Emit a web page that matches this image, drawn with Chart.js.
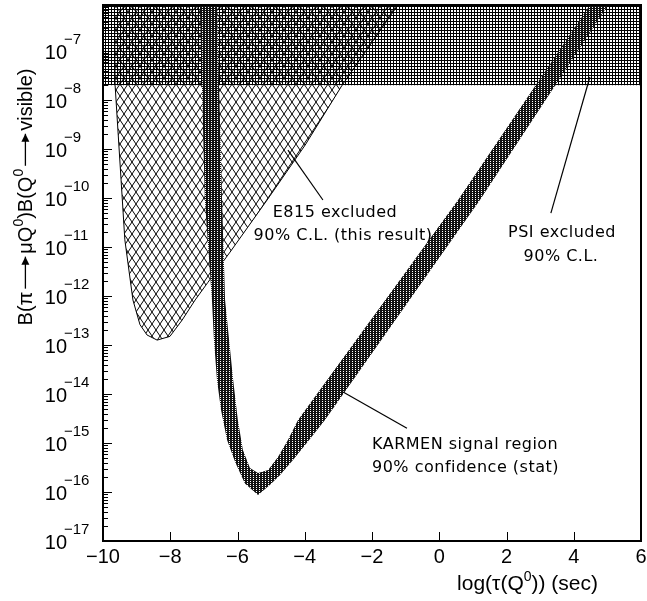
<!DOCTYPE html>
<html>
<head>
<meta charset="utf-8">
<script src="https://cdn.jsdelivr.net/npm/chart.js@4/dist/chart.umd.min.js"></script>
<style>
  html, body { margin: 0; padding: 0; background: #fff; }
  #wrap { width: 647px; height: 601px; }
</style>
</head>
<body>
<div id="wrap"><canvas id="chart" width="647" height="601"></canvas></div>
<script>
// axis ranges
const xMin = -10, xMax = 6;
const yMin = 1e-17, yMax = 8.7e-7;
const xTickValues = [-10, -8, -6, -4, -2, 0, 2, 4, 6];
const yDecades = [-17, -16, -15, -14, -13, -12, -11, -10, -9, -8, -7];

// PSI excluded: everything above this branching ratio
const psiX = [-10, 6];
const psiB = [2.0e-8, 2.0e-8];

// E815 excluded region (closed outline)
const e815X = [-9.66, -9.64, -9.35, -9.11, -8.90, -8.69, -8.39, -8.01, -7.65, -7.26, -6.88, -6.22, -5.12, -3.99, -2.89, -1.23, -9.66];
const e815B = [8.7e-7, 2.0e-8, 1.4e-11, 8.3e-13, 2.6e-13, 1.6e-13, 1.26e-13, 1.5e-13, 3.2e-13, 8.3e-13, 1.9e-12, 7.9e-12, 9.1e-11, 1.2e-9, 2.0e-8, 8.7e-7, 8.7e-7];

// KARMEN signal band: outer edge then inner edge back
const karmenOuterX = [-7.12, -6.97, -6.76, -6.70, -6.61, -6.49, -6.31, -6.07, -5.78, -5.39, -5.03, -4.74, -4.35, -3.87, -3.40, 1.21, 5.02];
const karmenOuterB = [8.7e-7, 9.1e-11, 8.3e-13, 1.26e-13, 1.95e-14, 4.7e-15, 1.15e-15, 4.1e-16, 1.5e-16, 8.7e-17, 1.4e-16, 2.2e-16, 4.5e-16, 1.15e-15, 2.95e-15, 9.1e-11, 8.7e-7];
const karmenInnerX = [4.48, 0.56, -4.20, -4.50, -4.80, -5.09, -5.39, -5.63, -5.84, -5.99, -6.13, -6.37, -6.46, -6.61, -7.12];
const karmenInnerB = [8.7e-7, 9.1e-11, 2.95e-15, 1.15e-15, 5.1e-16, 2.8e-16, 2.45e-16, 3.1e-16, 7.2e-16, 2.95e-15, 1.95e-14, 8.3e-13, 9.1e-11, 8.7e-7, 8.7e-7];

// pointer lines from labels into regions
const pointerE815X = [-4.50, -3.46], pointerE815B = [9.5e-10, 9.1e-11];
const pointerPsiX = [4.48, 3.32], pointerPsiB = [2.95e-8, 4.9e-11];
const pointerKarmenX = [-2.86, -0.96], pointerKarmenB = [1.1e-14, 2.0e-15];

// annotation texts, anchored in data coordinates
const notes = [
  { text: 'E815 excluded', x: -3.10, b: 5.1e-11, align: 'center' },
  { text: '90% C.L. (this result)', x: -2.86, b: 1.7e-11, align: 'center' },
  { text: 'PSI excluded', x: 3.65, b: 1.95e-11, align: 'center' },
  { text: '90% C.L.', x: 3.62, b: 6.3e-12, align: 'center' },
  { text: 'KARMEN signal region', x: -2.0, b: 9.1e-16, align: 'left' },
  { text: '90% confidence (stat)', x: -2.0, b: 3.1e-16, align: 'left' }
];

const pts = (xs, ys) => xs.map((x, i) => ({ x: x, y: ys[i] }));

function makePattern(w, h, draw) {
  const c = document.createElement('canvas');
  c.width = w; c.height = h;
  const g = c.getContext('2d');
  draw(g, w, h);
  return g.createPattern(c, 'repeat');
}

const gridPattern = makePattern(3, 3, (g) => {
  g.fillStyle = '#000';
  g.fillRect(0, 0, 3, 1);
  g.fillRect(0, 0, 1, 3);
});
const diamondPattern = makePattern(8, 12, (g, w, h) => {
  g.strokeStyle = '#000';
  g.lineWidth = 1;
  g.beginPath();
  g.moveTo(0, 0); g.lineTo(w, h);
  g.moveTo(w, 0); g.lineTo(0, h);
  g.stroke();
});
const dotPattern = makePattern(3, 2, (g) => {
  g.fillStyle = '#111';
  g.fillRect(0, 0, 3, 2);
  g.fillStyle = '#fff';
  g.fillRect(1, 1, 1, 1);
});

const minus = '\u2212';
const sans = '"Liberation Sans", Arial, sans-serif';

// draw a run of text parts on one baseline; {t}, {sup}, {arrow}
function runWidth(ctx, parts, size) {
  let w = 0;
  parts.forEach(p => {
    if (p.arrow) { w += p.arrow + 6; return; }
    ctx.font = (p.sup ? Math.round(size * 0.68) : size) + 'px ' + sans;
    w += ctx.measureText(p.t || p.sup).width;
  });
  return w;
}
function drawRun(ctx, parts, size, x0, y0) {
  let x = x0;
  parts.forEach(p => {
    if (p.arrow) {
      const ay = y0 - size * 0.33;
      ctx.beginPath();
      ctx.lineWidth = 1.3;
      ctx.moveTo(x + 3, ay); ctx.lineTo(x + 3 + p.arrow, ay);
      ctx.stroke();
      ctx.beginPath();
      ctx.moveTo(x + 3 + p.arrow, ay);
      ctx.lineTo(x + 3 + p.arrow - 8, ay - 4);
      ctx.lineTo(x + 3 + p.arrow - 8, ay + 4);
      ctx.closePath();
      ctx.fill();
      x += p.arrow + 6;
      return;
    }
    if (p.sup) {
      ctx.font = Math.round(size * 0.68) + 'px ' + sans;
      ctx.fillText(p.sup, x, y0 - size * 0.45);
      x += ctx.measureText(p.sup).width;
    } else {
      ctx.font = size + 'px ' + sans;
      ctx.fillText(p.t, x, y0);
      x += ctx.measureText(p.t).width;
    }
  });
}

const yTitleParts = [
  { t: 'B(\u03C0' }, { arrow: 32 }, { t: '\u03BCQ' }, { sup: '0' }, { t: ')B(Q' }, { sup: '0' }, { arrow: 32 }, { t: 'visible)' }
];
const xTitleParts = [
  { t: 'log(\u03C4(Q' }, { sup: '0' }, { t: ')) (sec)' }
];

const decorations = {
  id: 'decorations',
  afterDraw(chart) {
    const ctx = chart.ctx;
    const a = chart.chartArea;
    const xs = chart.scales.x, ys = chart.scales.y;
    ctx.save();
    ctx.fillStyle = '#000';
    ctx.strokeStyle = '#000';

    // frame
    ctx.lineWidth = 2;
    ctx.strokeRect(a.left, a.top, a.right - a.left, a.bottom - a.top);

    // y ticks (inward), major + minor
    ctx.lineWidth = 1;
    ctx.beginPath();
    yDecades.forEach(n => {
      for (let k = 1; k <= 9; k++) {
        const v = k * Math.pow(10, n);
        if (v < yMin * 0.999 || v > yMax) continue;
        const py = Math.round(ys.getPixelForValue(v)) + 0.5;
        const len = k === 1 ? 9 : 5;
        ctx.moveTo(a.left, py);
        ctx.lineTo(a.left + len, py);
      }
    });
    // x ticks (inward)
    xTickValues.forEach(v => {
      const px = Math.round(xs.getPixelForValue(v)) + 0.5;
      ctx.moveTo(px, a.bottom);
      ctx.lineTo(px, a.bottom - 9);
    });
    ctx.stroke();

    // y tick labels 10^n
    yDecades.forEach(n => {
      const py = ys.getPixelForValue(Math.pow(10, n));
      ctx.font = '20px ' + sans;
      ctx.textAlign = 'right';
      ctx.textBaseline = 'middle';
      ctx.fillText('10', 67, py + 2);
      ctx.font = '15px ' + sans;
      ctx.textAlign = 'left';
      ctx.fillText(minus + String(-n), 64, py - 11);
    });

    // x tick labels
    ctx.font = '20px ' + sans;
    ctx.textAlign = 'center';
    ctx.textBaseline = 'middle';
    xTickValues.forEach(v => {
      const label = v < 0 ? minus + String(-v) : String(v);
      ctx.fillText(label, xs.getPixelForValue(v), a.bottom + 16);
    });

    // axis titles
    ctx.textAlign = 'left';
    ctx.textBaseline = 'alphabetic';
    const xw = runWidth(ctx, xTitleParts, 21);
    drawRun(ctx, xTitleParts, 21, 598 - xw, 590);

    ctx.save();
    ctx.translate(25, 197);
    ctx.rotate(-Math.PI / 2);
    const yw = runWidth(ctx, yTitleParts, 20);
    drawRun(ctx, yTitleParts, 20, -yw / 2, 7);
    ctx.restore();

    // annotations
    ctx.font = '16px "DejaVu Sans", sans-serif';
    ctx.letterSpacing = '0.5px';
    ctx.textBaseline = 'middle';
    notes.forEach(n => {
      ctx.textAlign = n.align;
      ctx.fillText(n.text, xs.getPixelForValue(n.x), ys.getPixelForValue(n.b));
    });
    ctx.restore();
  }
};

const lineStyle = { showLine: true, pointRadius: 0, borderColor: '#000', borderWidth: 1.2, fill: false, tension: 0 };

new Chart(document.getElementById('chart'), {
  type: 'scatter',
  data: {
    datasets: [
      Object.assign({}, lineStyle, { label: 'pointer E815', data: pts(pointerE815X, pointerE815B), order: 0 }),
      Object.assign({}, lineStyle, { label: 'pointer PSI', data: pts(pointerPsiX, pointerPsiB), order: 0 }),
      Object.assign({}, lineStyle, { label: 'pointer KARMEN', data: pts(pointerKarmenX, pointerKarmenB), order: 0 }),
      {
        label: 'KARMEN signal region',
        data: pts(karmenOuterX, karmenOuterB).concat(pts(karmenInnerX, karmenInnerB)),
        showLine: true, pointRadius: 0, tension: 0,
        borderWidth: 0, borderColor: 'rgba(0,0,0,0)',
        backgroundColor: dotPattern, fill: 'shape', order: 1
      },
      {
        label: 'E815 excluded',
        data: pts(e815X, e815B),
        showLine: true, pointRadius: 0, tension: 0,
        borderWidth: 1, borderColor: '#000',
        backgroundColor: diamondPattern, fill: 'shape', order: 2
      },
      {
        label: 'PSI excluded',
        data: pts(psiX, psiB),
        showLine: true, pointRadius: 0, tension: 0,
        borderWidth: 0, borderColor: 'rgba(0,0,0,0)',
        backgroundColor: gridPattern, fill: 'end', order: 3
      }
    ]
  },
  options: {
    responsive: false,
    animation: false,
    layout: { padding: { top: 5, right: 6, left: 0, bottom: 0 } },
    plugins: { legend: { display: false }, tooltip: { enabled: false } },
    scales: {
      x: {
        type: 'linear', min: xMin, max: xMax,
        grid: { display: false }, border: { display: false },
        ticks: { display: false },
        afterFit: (s) => { s.height = 60; }
      },
      y: {
        type: 'logarithmic', min: yMin, max: yMax,
        grid: { display: false }, border: { display: false },
        ticks: { display: false },
        afterFit: (s) => { s.width = 103; }
      }
    }
  },
  plugins: [decorations]
});
</script>
</body>
</html>
